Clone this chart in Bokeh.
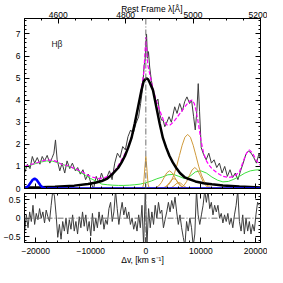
from bokeh.plotting import figure
from bokeh.models import LinearAxis, Range1d, FixedTicker, Span, Label
from bokeh.layouts import column
from bokeh.embed import file_html
from bokeh.resources import INLINE

# ---------------- data ----------------
# observed spectrum: velocity [km/s], flux
spec_v = [-22000, -21520, -21040, -20620, -20200, -19720, -19240, -18820, -18400, -17920,
          -17440, -17010, -16700, -16410, -16110, -15630, -15210, -14730, -14310, -13820,
          -13340, -12800, -12380, -11900, -11420, -10940, -10460, -9980, -9490, -9010,
          -8530, -8050, -7570, -7090, -6610, -6130, -5650, -5160, -4680, -4200,
          -3720, -3240, -2760, -2280, -1790, -1310, -950, -600, -300, -150,
          0, 130, 300, 480, 700, 1000, 1340, 1600, 1930, 2200,
          2540, 2840, 3140, 3440, 3740, 4220, 4640, 5250, 5670, 6150,
          6630, 7050, 7470, 7950, 8310, 8680, 8980, 9280, 9520, 9760,
          10060, 10480, 10960, 11440, 11920, 12400, 12880, 13370, 13850, 14330,
          14810, 15290, 15770, 16250, 16730, 17210, 17690, 18170, 18650, 19130,
          19610, 20090, 20570, 20830]
spec_f = [0.72, 1.10, 0.90, 1.45, 1.15, 1.40, 1.10, 1.45, 1.25, 1.50,
          1.15, 1.40, 1.60, 2.20, 1.30, 0.80, 1.15, 0.70, 1.25, 0.90,
          1.15, 0.80, 0.95, 0.65, 0.85, 0.40, 0.65, 0.25, 0.00, 0.55,
          0.25, 0.70, 0.35, 0.50, 0.80, 0.40, 1.15, 1.60, 1.40, 1.90,
          1.75, 2.35, 2.65, 2.50, 2.95, 3.25, 3.85, 4.50, 5.60, 5.75,
          6.40, 7.00, 5.90, 6.20, 5.50, 4.90, 4.45, 4.10, 3.95, 4.05,
          3.35, 3.10, 3.10, 2.80, 2.95, 3.25, 3.00, 3.70, 3.40, 3.85,
          3.50, 3.93, 4.15, 3.85, 4.00, 3.25, 2.65, 3.55, 4.75, 3.50,
          1.85, 1.55, 1.30, 1.60, 1.15, 1.30, 0.95, 1.15, 0.70, 1.00,
          0.55, 0.85, 0.50, 0.70, 0.40, 0.80, 1.15, 1.55, 1.70, 1.60,
          1.40, 1.15, 1.60, 1.30]

# total model (magenta dashed)
model_v = [-22000, -20000, -18500, -17500, -16500, -15300, -14000, -12900, -11500, -10500,
           -9500, -8500, -7500, -6500, -5500, -4500, -3500, -2500, -1800, -1200,
           -700, -350, -150, 0, 150, 350, 700, 1200, 1800, 2500,
           3200, 3800, 4400, 5000, 5600, 6200, 6800, 7400, 8000, 8400,
           8800, 9200, 9600, 10000, 10500, 11000, 11500, 12000, 13000, 14000,
           15000, 16000, 17000, 17800, 18300, 18800, 19400, 20000, 20500, 20830]
model_f = [1.00, 1.15, 1.27, 1.29, 1.25, 1.10, 1.02, 0.90, 0.75, 0.60,
           0.50, 0.45, 0.48, 0.60, 0.85, 1.25, 1.70, 2.40, 3.20, 3.95,
           4.70, 5.30, 6.20, 6.85, 6.30, 5.60, 5.20, 4.60, 4.05, 3.55,
           3.10, 2.88, 2.88, 3.00, 3.20, 3.40, 3.60, 3.80, 3.97, 4.00,
           3.85, 3.45, 2.85, 2.20, 1.60, 1.25, 1.05, 0.90, 0.70, 0.55,
           0.50, 0.55, 0.75, 1.30, 1.60, 1.75, 1.60, 1.30, 1.15, 1.05]

# broad H-beta component (thick black)
broad_v = [-22040, -19000, -16500, -13000, -10500, -9000, -8000, -7000, -6200, -5000,
           -4400, -3800, -3200, -2600, -2000, -1400, -800, -400, 0, 200,
           400, 700, 1300, 1900, 2500, 3100, 3700, 4300, 4900, 5500,
           6200, 7000, 7700, 9000, 10500, 12000, 14000, 17000, 20830]
broad_f = [0.04, 0.06, 0.08, 0.13, 0.20, 0.27, 0.34, 0.45, 0.62, 0.94,
           1.18, 1.47, 1.85, 2.29, 2.96, 3.70, 4.45, 4.85, 4.97, 4.98,
           4.95, 4.80, 4.45, 3.70, 2.96, 2.29, 1.85, 1.47, 1.18, 0.94,
           0.70, 0.52, 0.44, 0.32, 0.24, 0.19, 0.14, 0.09, 0.05]

# Fe II template (green)
feii_v = [-22040, -21000, -20000, -19000, -18000, -17000, -16000, -15000, -14000, -13000,
          -12000, -11000, -10000, -9000, -8000, -7000, -6000, -5000, -4000, -3000,
          -2000, -1000, 0, 1000, 2000, 3000, 4000, 5000, 6000, 7000,
          8000, 9000, 10000, 11000, 12000, 13000, 14000, 15000, 16000, 17000,
          18000, 19000, 20000, 20830]
feii_f = [0.95, 1.05, 1.13, 1.20, 1.25, 1.24, 1.17, 1.08, 1.00, 0.90,
          0.75, 0.60, 0.45, 0.33, 0.20, 0.17, 0.15, 0.14, 0.14, 0.15,
          0.17, 0.20, 0.26, 0.34, 0.44, 0.52, 0.62, 0.64, 0.55, 0.45,
          0.55, 0.75, 0.80, 0.70, 0.52, 0.38, 0.30, 0.32, 0.42, 0.55,
          0.70, 0.80, 0.84, 0.85]

# narrow / [O III] components (orange)
narrow_v = [-22040, -600, -400, -200, 0, 200, 400, 600, 20830]
narrow_f = [0, 0.02, 0.20, 0.88, 1.45, 0.88, 0.20, 0.02, 0]
oiii_a_v = [-22040, 1300, 1800, 2300, 2800, 3300, 3800, 4300, 4800, 5300, 5800, 6300, 6800, 7300, 20830]
oiii_a_f = [0, 0.01, 0.035, 0.11, 0.26, 0.485, 0.706, 0.80, 0.706, 0.485, 0.26, 0.11, 0.035, 0.01, 0]
oiii_b_v = [-22040, 2700, 3100, 3500, 3900, 4300, 4700, 5100, 5500, 5900, 6300, 6700, 7100, 7500, 20830]
oiii_b_f = [0, 0.005, 0.02, 0.061, 0.146, 0.273, 0.397, 0.45, 0.397, 0.273, 0.146, 0.061, 0.02, 0.005, 0]
oiii_c_v = [-22040, 3100, 3600, 4100, 4600, 5100, 5600, 6100, 6600, 7100, 7600,
            8100, 8600, 9100, 9600, 10100, 10600, 11100, 11600, 12100, 20830]
oiii_c_f = [0, 0.03, 0.07, 0.16, 0.33, 0.61, 1.01, 1.49, 1.96, 2.32, 2.45,
            2.32, 1.96, 1.49, 1.01, 0.61, 0.33, 0.16, 0.07, 0.03, 0]
oiii_d_v = [-22040, 5900, 6400, 6900, 7400, 7900, 8400, 8900, 9400, 9900, 10400, 10900, 11400, 11900, 20830]
oiii_d_f = [0, 0.01, 0.04, 0.13, 0.31, 0.58, 0.84, 0.95, 0.84, 0.58, 0.31, 0.13, 0.04, 0.01, 0]
oiii_e_v = [-22040, 3900, 4250, 4600, 4950, 5300, 5650, 6000, 6350, 6700, 7050, 7400, 7750, 8100, 20830]
oiii_e_f = [0, 0.003, 0.012, 0.037, 0.088, 0.164, 0.238, 0.27, 0.238, 0.164, 0.088, 0.037, 0.012, 0.003, 0]

# blue component
blue_v = [-22040, -21950, -21600, -21250, -20900, -20550, -20200, -19850, -19500, -19150, -18800, -18450, -18100, 20830]
blue_f = [0.016, 0.02, 0.061, 0.146, 0.273, 0.397, 0.45, 0.397, 0.273, 0.146, 0.061, 0.02, 0.005, 0]

# residuals
res_v = [-22000, -21700, -21400, -21100, -20800, -20500, -20200, -19900, -19600, -19300,
         -19000, -18700, -18400, -18100, -17800, -17500, -17200, -16900, -16600, -16300,
         -16000, -15700, -15400, -15100, -14800, -14500, -14200, -13900, -13600, -13300,
         -13000, -12700, -12400, -12100, -11800, -11500, -11200, -10900, -10600, -10300,
         -10000, -9700, -9400, -9100, -8800, -8500, -8200, -7900, -7600, -7300,
         -7000, -6700, -6400, -6100, -5800, -5500, -5200, -4900, -4600, -4300,
         -4000, -3700, -3400, -3100, -2800, -2500, -2200, -1900, -1600, -1300,
         -1000, -700, -400, -100, 200, 500, 800, 1100, 1400, 1700,
         2000, 2300, 2600, 2900, 3200, 3500, 3800, 4100, 4400, 4700,
         5000, 5300, 5600, 5900, 6200, 6500, 6800, 7100, 7400, 7700,
         8000, 8300, 8600, 8900, 9200, 9500, 9800, 10100, 10400, 10700,
         11000, 11300, 11600, 11900, 12200, 12500, 12800, 13100, 13400, 13700,
         14000, 14300, 14600, 14900, 15200, 15500, 15800, 16100, 16400, 16700,
         17000, 17300, 17600, 17900, 18200, 18500, 18800, 19100, 19400, 19700,
         20000, 20300, 20600]
res_f = [-0.35, 0.09, -0.26, 0.17, -0.09, 0.35, -0.17, 0.13, -0.04, 0.26,
         0.0, 0.17, -0.13, 0.22, 0.04, -0.09, 0.35, 0.75, 0.6, 0.09,
         -0.52, -0.17, -0.57, -0.09, -0.35, 0.0, -0.43, -0.04, -0.3, 0.09,
         -0.35, -0.09, -0.43, 0.04, -0.26, 0.17, -0.22, 0.09, -0.35, -0.09,
         -0.48, 0.13, -0.35, 0.0, -0.26, 0.17, -0.17, 0.09, -0.3, -0.04,
         -0.17, 0.26, 0.43, -0.09, 0.17, 0.75, 0.26, -0.17, 0.17, 0.43,
         0.09, 0.3, 0.0, 0.17, -0.17, 0.0, -0.3, -0.09, -0.35, 0.09,
         -0.26, 0.35, -0.75, 0.75, -0.75, 0.26, -0.26, 0.17, -0.17, 0.35,
         0.0, 0.43, 0.13, 0.22, -0.26, -0.04, 0.17, 0.43, 0.17, 0.48,
         0.26, 0.57, 0.17, -0.17, 0.09, -0.26, -0.52, -0.75, -0.09, -0.35,
         0.0, -0.26, -0.75, -0.43, 0.75, 0.09, -0.17, 0.09, 0.35, 0.75,
         0.43, 0.75, 0.26, 0.43, 0.09, 0.35, 0.17, 0.35, 0.0, 0.13,
         -0.13, 0.09, -0.09, 0.13, -0.17, 0.0, -0.26, 0.09, 0.35, 0.75,
         -0.09, -0.35, 0.09, -0.43, 0.0, -0.35, -0.09, -0.43, -0.17, -0.35,
         0.09, 0.43, 0.35]

# tick labels
v_ticks = [-20000, -10000, 0, 10000, 20000]
v_labels = {-20000: "\u221220000", -10000: "\u221210000", 0: "0", 10000: "10000", 20000: "20000"}
lam_ticks = [4600, 4800, 5000, 5200]
flux_ticks = [0, 1, 2, 3, 4, 5, 6, 7]
res_ticks = [-0.5, 0, 0.5]
res_labels = {-0.5: "\u22120.5", 0: "0", 0.5: "0.5"}

# ---------------- styling ----------------
FONT = "Liberation Sans"
FS = "8.5px"
V_START, V_END = -22040, 20830


def style(ax, ticks, show=True, standoff=3):
    ax.major_tick_in = 5
    ax.major_tick_out = 0
    ax.minor_tick_in = 2
    ax.minor_tick_out = 0
    ax.axis_line_color = "black"
    ax.major_tick_line_color = "black"
    ax.minor_tick_line_color = "black"
    ax.major_label_text_font = FONT
    ax.major_label_text_color = "black"
    ax.axis_label_text_font = FONT
    ax.axis_label_text_font_size = FS
    ax.axis_label_text_font_style = "normal"
    ax.axis_label_text_color = "black"
    if show:
        ax.major_label_text_font_size = FS
        ax.major_label_standoff = standoff
    else:
        ax.major_label_overrides = {t: "" for t in ticks}
        ax.major_label_text_font_size = "1px"
        ax.major_label_standoff = 0
    return ax


v_minor = list(range(-22000, 21000, 2000))
lam_minor = list(range(4500, 5201, 50))
flux_minor = [i * 0.2 for i in range(39)]
res_minor = [i * 0.1 - 0.6 for i in range(13)]

xr = Range1d(V_START, V_END)

p1 = figure(width=267, height=193, x_range=xr, y_range=Range1d(0, 7.7),
            output_backend="svg", toolbar_location=None,
            x_axis_type=None, y_axis_type=None,
            min_border_left=23, min_border_right=7, min_border_top=16, min_border_bottom=5)
p1.outline_line_color = "black"
p1.outline_line_width = 1
p1.background_fill_color = "white"
p1.border_fill_color = "white"
p1.extra_x_ranges = {"lam": Range1d(4500, 5200)}

p1.add_layout(style(LinearAxis(ticker=FixedTicker(ticks=flux_ticks, minor_ticks=flux_minor)), flux_ticks, True, 4), "left")
p1.add_layout(style(LinearAxis(ticker=FixedTicker(ticks=flux_ticks, minor_ticks=flux_minor)), flux_ticks, False), "right")
p1.add_layout(style(LinearAxis(ticker=FixedTicker(ticks=v_ticks, minor_ticks=v_minor)), v_ticks, False), "below")
top = style(LinearAxis(x_range_name="lam", ticker=FixedTicker(ticks=lam_ticks, minor_ticks=lam_minor)), lam_ticks, True, 1)
top.axis_label = "\u00a0" * 8 + "Rest Frame \u03bb[\u00c5]"
top.axis_label_standoff = -5
p1.add_layout(top, "above")

p1.add_layout(Span(location=0, dimension="height", line_color="#707070", line_width=1, line_dash="6 2 1 2"))

p1.line(spec_v, spec_f, line_color="#3c3c3c", line_width=1)
p1.line(feii_v, feii_f, line_color="#3ee03e", line_width=1)
p1.multi_line([narrow_v, oiii_a_v, oiii_b_v, oiii_c_v, oiii_d_v, oiii_e_v],
              [narrow_f, oiii_a_f, oiii_b_f, oiii_c_f, oiii_d_f, oiii_e_f],
              line_color="#cf9a3c", line_width=1)
p1.line(model_v, model_f, line_color="#ff00ff", line_width=1.2, line_dash="4 2")
p1.line(broad_v, broad_f, line_color="black", line_width=2.5)
p1.line(blue_v, blue_f, line_color="#0000ff", line_width=2.5)

p1.add_layout(Label(x=-17155, y=6.54, text="H\u03b2", text_font=FONT, text_font_size="8.5px",
                    text_color="#222222", text_align="left", text_baseline="alphabetic"))

p2 = figure(width=267, height=74, x_range=xr, y_range=Range1d(-0.66, 0.67),
            output_backend="svg", toolbar_location=None,
            x_axis_type=None, y_axis_type=None,
            min_border_left=23, min_border_right=7, min_border_top=0, min_border_bottom=23)
p2.outline_line_color = "black"
p2.outline_line_width = 1
p2.background_fill_color = "white"
p2.border_fill_color = "white"

la = style(LinearAxis(ticker=FixedTicker(ticks=res_ticks, minor_ticks=res_minor)), res_ticks, True, 4)
la.major_label_overrides = res_labels
p2.add_layout(la, "left")
p2.add_layout(style(LinearAxis(ticker=FixedTicker(ticks=res_ticks, minor_ticks=res_minor)), res_ticks, False), "right")
p2.add_layout(style(LinearAxis(ticker=FixedTicker(ticks=v_ticks, minor_ticks=v_minor)), v_ticks, False), "above")
ba = style(LinearAxis(ticker=FixedTicker(ticks=v_ticks, minor_ticks=v_minor)), v_ticks, True, 5)
ba.major_label_overrides = v_labels
ba.axis_label = "\u0394v, [km s\u207b\u00b9]"
ba.axis_label_standoff = -2
p2.add_layout(ba, "below")

p2.add_layout(Span(location=0, dimension="height", line_color="#707070", line_width=1, line_dash="6 2 1 2"))
p2.add_layout(Span(location=0, dimension="width", line_color="#707070", line_width=1, line_dash="6 2 1 2"))
p2.line(res_v, res_f, line_color="#3c3c3c", line_width=1)

layout = column(p1, p2, spacing=0)
open("out.html", "w").write(file_html(layout, INLINE))
